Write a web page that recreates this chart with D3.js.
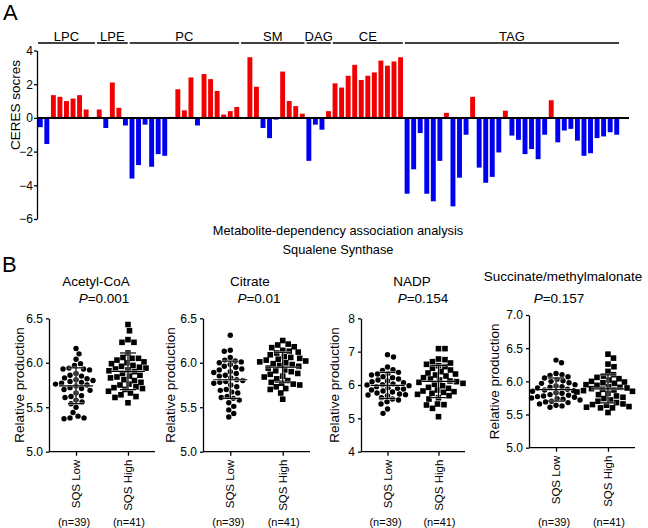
<!DOCTYPE html>
<html>
<head>
<meta charset="utf-8">
<script src="https://cdn.jsdelivr.net/npm/d3@7"></script>
<style>
  body { margin: 0; background: #fff; }
  svg { display: block; font-family: "Liberation Sans", Arial, sans-serif; }
</style>
</head>
<body>
<svg id="fig" width="648" height="528"></svg>
<script>
// ---- panel A data ----
const lipidGroups = ['LPC', 'LPE', 'PC', 'SM', 'DAG', 'CE', 'TAG'];
const groupSizes = [9, 5, 17, 10, 4, 11, 33];
const ceresScores = [
  -0.55, -1.55, 1.35, 1.25, 1.0, 1.15, 1.35, 0.5, 0.05,          // LPC
  0.5, -0.6, 2.1, 0.6, -0.45,                                    // LPE
  -3.6, -2.8, -0.4, -2.9, -2.15, -2.25, 0.06, 1.7, 0.45, 2.4,
  -0.45, 2.6, 2.3, 1.6, 0.2, 0.4, 0.65,                          // PC
  0, 3.6, 1.85, -0.6, -1.2, -0.1, 2.75, 1.0, 0.7, 0.25,          // SM
  -2.55, -0.4, -0.7, 0.4,                                        // DAG
  2.05, 1.8, 2.5, 3.15, 2.25, 2.5, 2.7, 3.4, 3.1, 3.35, 3.6,     // CE
  -4.5, -3.05, -0.9, -4.5, -4.95, -2.55, 0.3, -5.25, -3.55, -1.0,
  1.25, -2.95, -3.85, -3.5, -2.05, 0.43, -1.05, -1.3, -2.15, -1.85,
  -2.45, -1.0, 1.05, -1.45, -0.75, -0.65, -1.35, -2.25, -2.1, -1.2,
  -1.1, -0.85, -1.0                                              // TAG
];
const ceresTicks = [4, 2, 0, -2, -4, -6];

// ---- panel B data ----
const groupNames = ['SQS Low', 'SQS High'];
const groupNs = ['(n=39)', '(n=41)'];
const metaboliteNames = ['Acetyl-CoA', 'Citrate', 'NADP', 'Succinate/methylmalonate'];
const pValues = ['0.001', '0.01', '0.154', '0.157'];

const acetylLow = [6.16, 6.10, 6.04, 5.99, 5.97, 5.94, 5.93, 5.93, 5.92, 5.88, 5.86, 5.85, 5.83, 5.82, 5.81, 5.80, 5.79, 5.78, 5.77, 5.76,
  5.75, 5.74, 5.72, 5.71, 5.70, 5.69, 5.66, 5.63, 5.62, 5.61, 5.58, 5.56, 5.54, 5.50, 5.44, 5.40, 5.38, 5.37, 5.38];
const acetylHigh = [6.43, 6.36, 6.26, 6.23, 6.23, 6.11, 6.06, 6.05, 6.05, 6.03, 6.01, 6.00, 5.99, 5.97, 5.96, 5.95, 5.94, 5.93, 5.92, 5.91,
  5.90, 5.88, 5.86, 5.85, 5.84, 5.83, 5.81, 5.80, 5.78, 5.76, 5.75, 5.73, 5.72, 5.71, 5.70, 5.68, 5.66, 5.64, 5.62, 5.61, 5.55];
const citrateLow = [6.31, 6.14, 6.13, 6.06, 6.03, 6.02, 6.01, 6.00, 5.98, 5.96, 5.95, 5.93, 5.92, 5.90, 5.89, 5.88, 5.86, 5.85, 5.83, 5.81,
  5.80, 5.79, 5.78, 5.77, 5.75, 5.73, 5.70, 5.69, 5.67, 5.66, 5.62, 5.61, 5.60, 5.58, 5.55, 5.51, 5.47, 5.43, 5.39];
const citrateHigh = [6.25, 6.21, 6.20, 6.18, 6.17, 6.14, 6.13, 6.12, 6.11, 6.09, 6.07, 6.06, 6.05, 6.04, 6.03, 6.02, 6.01, 6.00, 5.99, 5.98,
  5.97, 5.96, 5.94, 5.92, 5.91, 5.90, 5.88, 5.87, 5.85, 5.84, 5.82, 5.80, 5.78, 5.77, 5.76, 5.75, 5.73, 5.71, 5.70, 5.66, 5.59];
const nadpLow = [6.91, 6.84, 6.54, 6.46, 6.44, 6.38, 6.35, 6.33, 6.30, 6.25, 6.22, 6.18, 6.15, 6.12, 6.10, 6.07, 6.03, 6.01, 6.00, 5.98,
  5.95, 5.92, 5.90, 5.88, 5.85, 5.82, 5.79, 5.76, 5.73, 5.71, 5.70, 5.68, 5.62, 5.58, 5.55, 5.50, 5.43, 5.28, 5.15];
const nadpHigh = [7.09, 7.09, 6.78, 6.76, 6.70, 6.66, 6.62, 6.58, 6.55, 6.50, 6.45, 6.40, 6.36, 6.33, 6.30, 6.27, 6.22, 6.18, 6.15, 6.12,
  6.10, 6.08, 6.05, 6.02, 5.98, 5.93, 5.90, 5.85, 5.82, 5.80, 5.78, 5.75, 5.72, 5.68, 5.62, 5.58, 5.43, 5.41, 5.40, 5.30, 5.05];
const succLow = [6.32, 6.28, 6.12, 6.10, 6.09, 6.07, 6.05, 6.03, 6.01, 6.00, 5.98, 5.97, 5.95, 5.93, 5.92, 5.91, 5.90, 5.88, 5.87, 5.86,
  5.85, 5.83, 5.82, 5.80, 5.79, 5.78, 5.77, 5.76, 5.75, 5.74, 5.73, 5.72, 5.70, 5.69, 5.68, 5.66, 5.64, 5.63, 5.61];
const succHigh = [6.41, 6.35, 6.26, 6.22, 6.15, 6.10, 6.08, 6.06, 6.04, 6.02, 6.00, 5.99, 5.98, 5.97, 5.95, 5.94, 5.92, 5.91, 5.90, 5.89,
  5.88, 5.87, 5.86, 5.85, 5.84, 5.82, 5.80, 5.78, 5.76, 5.74, 5.72, 5.70, 5.68, 5.66, 5.65, 5.64, 5.62, 5.61, 5.60, 5.60, 5.53];

const yDomains = [[5, 6.5], [5, 6.5], [4, 8], [5, 7]];
const yTickValues = [[5, 5.5, 6, 6.5], [5, 5.5, 6, 6.5], [4, 5, 6, 7, 8], [5, 5.5, 6, 6.5, 7]];
const yTickFormats = ['.1f', '.1f', 'd', '.1f'];
const lowSeries = [acetylLow, citrateLow, nadpLow, succLow];
const highSeries = [acetylHigh, citrateHigh, nadpHigh, succHigh];

// layout of the four small plots (pixels)
const panelLayout = [
  {x0: 49, x1: 155, top: 318.3, bottom: 451.7, titleX: 96, titleY: 286, pX: 104, yLabX: 19},
  {x0: 203, x1: 310, top: 318.3, bottom: 451.7, titleX: 250, titleY: 286, pX: 259, yLabX: 170},
  {x0: 361, x1: 465, top: 318.3, bottom: 451.7, titleX: 412, titleY: 286, pX: 423, yLabX: 334},
  {x0: 529, x1: 635, top: 315, bottom: 447.7, titleX: 563, titleY: 281, pX: 559, yLabX: 494}
];

const svg = d3.select('#fig');
const red = '#f00000', blue = '#0000f0';

// ================= panel A =================
const margin = {top: 50.5, left: 37, right: 629, bottom: 219};

const xBar = d3.scaleBand()
  .domain(d3.range(ceresScores.length))
  .range([margin.left, 620])
  .paddingInner(0.25)
  .paddingOuter(0.125);

const yBar = d3.scaleLinear()
  .domain([-6, 4])
  .range([margin.bottom, margin.top]);

svg.append('text').attr('x', 3).attr('y', 20)
  .attr('font-size', 22).text('A');

svg.append('g')
  .selectAll('rect')
  .data(ceresScores)
  .join('rect')
  .attr('x', (d, i) => xBar(i))
  .attr('width', xBar.bandwidth())
  .attr('y', d => yBar(Math.max(0, d)))
  .attr('height', d => Math.abs(yBar(d) - yBar(0)))
  .attr('fill', d => d >= 0 ? red : blue);

const yAxisA = svg.append('g')
  .attr('transform', `translate(${margin.left},0)`)
  .call(d3.axisLeft(yBar).tickValues(ceresTicks).tickSize(3).tickPadding(1).tickSizeOuter(0));
yAxisA.select('.domain').attr('stroke-width', 1.3);
yAxisA.selectAll('.tick line').attr('stroke-width', 1.3);
yAxisA.selectAll('.tick text').attr('font-size', 12).attr('font-family', 'inherit').attr('fill', '#000');

// zero line
svg.append('line')
  .attr('x1', margin.left).attr('x2', margin.right)
  .attr('y1', yBar(0)).attr('y2', yBar(0))
  .attr('stroke', '#000').attr('stroke-width', 2);

svg.append('text')
  .attr('transform', `translate(15,${(yBar(4) + yBar(-2)) / 2 + 4}) rotate(-90)`)
  .attr('text-anchor', 'middle').attr('dy', '0.35em')
  .attr('font-size', 13.5).text('CERES socres');

// group brackets
const groupStarts = d3.cumsum([0, ...groupSizes]);
const groupData = lipidGroups.map((g, i) => {
  const first = groupStarts[i], last = groupStarts[i] + groupSizes[i] - 1;
  const pad = xBar.step() * xBar.paddingOuter();
  return {
    name: g,
    x1: xBar(first) - pad + 1,
    x2: xBar(last) + xBar.bandwidth() + pad - 1
  };
});
const gLabels = svg.append('g');
gLabels.selectAll('line')
  .data(groupData)
  .join('line')
  .attr('x1', d => d.x1).attr('x2', d => d.x2)
  .attr('y1', 43).attr('y2', 43)
  .attr('stroke', '#000').attr('stroke-width', 1.5);
gLabels.selectAll('text')
  .data(groupData)
  .join('text')
  .attr('x', d => (d.x1 + d.x2) / 2).attr('y', 41)
  .attr('text-anchor', 'middle').attr('font-size', 13)
  .text(d => d.name);

svg.append('text').attr('x', 338).attr('y', 235)
  .attr('text-anchor', 'middle').attr('font-size', 12.8)
  .text('Metabolite-dependency association analysis');
svg.append('text').attr('x', 338).attr('y', 254)
  .attr('text-anchor', 'middle').attr('font-size', 12.8)
  .text('Squalene Synthase');

// ================= panel B =================
svg.append('text').attr('x', 2).attr('y', 272)
  .attr('font-size', 22).text('B');

function swarm(values, y, cx, dist) {
  const pts = values.map(v => ({v, y: y(v)})).sort((a, b) => a.y - b.y);
  const placed = [];
  pts.forEach((p, n) => {
    let off = null;
    const sign = n % 2 ? 1 : -1;
    for (let k = 0; k < 200 && off === null; k++) {
      const tries = k === 0 ? [0] : [sign * k * 0.5, -sign * k * 0.5];
      for (const o of tries) {
        if (placed.every(q => (q.dx - o) ** 2 + (q.y - p.y) ** 2 >= dist * dist)) { off = o; break; }
      }
    }
    p.dx = off;
    placed.push(p);
  });
  return placed.map(p => ({v: p.v, x: cx + p.dx, y: p.y}));
}

metaboliteNames.forEach((name, i) => {
  const L = panelLayout[i];
  const g = svg.append('g');

  const x = d3.scalePoint().domain(groupNames).range([L.x0, L.x1]).padding(0.52);
  const y = d3.scaleLinear().domain(yDomains[i]).range([L.bottom, L.top]);

  // title + p value
  g.append('text').attr('x', L.titleX).attr('y', L.titleY)
    .attr('text-anchor', 'middle').attr('font-size', 13.5).text(name);
  const pt = g.append('text').attr('x', L.pX).attr('y', 303)
    .attr('text-anchor', 'middle').attr('font-size', 13.5);
  pt.append('tspan').attr('font-style', 'italic').text('P');
  pt.append('tspan').text('=' + pValues[i]);

  // axes
  const ya = g.append('g').attr('transform', `translate(${L.x0},0)`)
    .call(d3.axisLeft(y).tickValues(yTickValues[i]).tickFormat(d3.format(yTickFormats[i]))
      .tickSize(3).tickPadding(3).tickSizeOuter(0));
  ya.selectAll('.tick text').attr('font-size', 12).attr('font-family', 'inherit');

  const xa = g.append('g').attr('transform', `translate(0,${L.bottom})`)
    .call(d3.axisBottom(x).tickSize(4).tickSizeOuter(0).tickFormat(''));
  xa.select('.domain').attr('d', `M${L.x0},0H${L.x1}`);
  [ya, xa].forEach(a => {
    a.select('.domain').attr('stroke-width', 1.3);
    a.selectAll('.tick line').attr('stroke-width', 1.3);
  });

  g.selectAll('.xlab')
    .data(groupNames)
    .join('text')
    .attr('transform', d => `translate(${x(d)},${L.bottom + 8}) rotate(-90)`)
    .attr('text-anchor', 'end').attr('dy', '0.35em')
    .attr('font-size', 11.5).text(d => d);

  g.selectAll('.nlab')
    .data(groupNs)
    .join('text')
    .attr('x', (d, j) => x(groupNames[j]) + (j ? 1 : -2))
    .attr('y', 526)
    .attr('text-anchor', 'middle').attr('font-size', 11).text(d => d);

  g.append('text')
    .attr('transform', `translate(${L.yLabX},${(L.top + L.bottom) / 2}) rotate(-90)`)
    .attr('text-anchor', 'middle').attr('dy', '0.35em')
    .attr('font-size', 13.5).text('Relative production');

  // points
  const lowPts = swarm(lowSeries[i], y, x('SQS Low'), 6);
  const highPts = swarm(highSeries[i], y, x('SQS High'), 6.4);

  g.append('g').selectAll('circle')
    .data(lowPts)
    .join('circle')
    .attr('cx', d => d.x).attr('cy', d => d.y).attr('r', 2.7)
    .attr('fill', '#000');

  g.append('g').selectAll('rect')
    .data(highPts)
    .join('rect')
    .attr('x', d => d.x - 2.8).attr('y', d => d.y - 2.8)
    .attr('width', 5.6).attr('height', 5.6)
    .attr('fill', '#000');

  // mean and SD
  [lowSeries[i], highSeries[i]].forEach((vals, j) => {
    const cx = x(groupNames[j]);
    const m = d3.mean(vals), sd = d3.deviation(vals);
    const segs = [
      [cx - 17, y(m), cx + 17, y(m)],
      [cx - 8, y(m + sd), cx + 8, y(m + sd)],
      [cx - 8, y(m - sd), cx + 8, y(m - sd)],
      [cx, y(m + sd), cx, y(m - sd)]
    ];
    const eg = g.append('g');
    eg.selectAll('.halo').data(segs).join('line').attr('class', 'halo')
      .attr('x1', d => d[0]).attr('y1', d => d[1]).attr('x2', d => d[2]).attr('y2', d => d[3])
      .attr('stroke', '#fff').attr('stroke-width', 2.6).attr('stroke-opacity', 0.6);
    eg.selectAll('.bar').data(segs).join('line').attr('class', 'bar')
      .attr('x1', d => d[0]).attr('y1', d => d[1]).attr('x2', d => d[2]).attr('y2', d => d[3])
      .attr('stroke', '#000').attr('stroke-width', 1.2);
  });
});
</script>
</body>
</html>
